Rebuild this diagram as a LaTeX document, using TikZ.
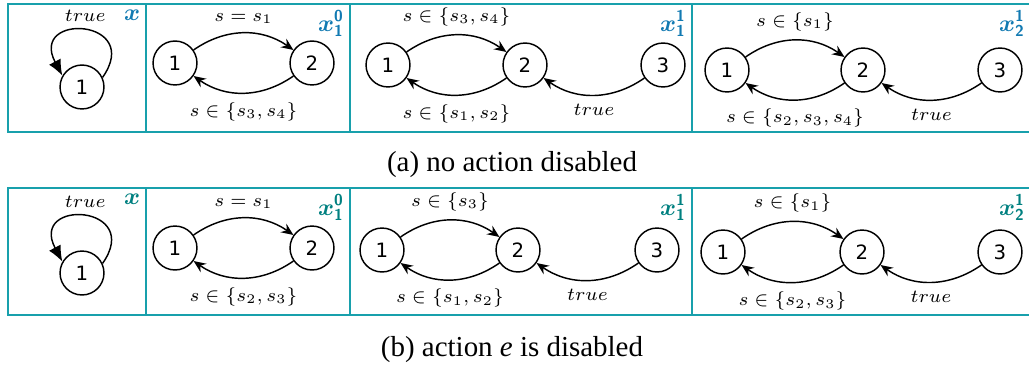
\documentclass[tikz,border=0pt]{standalone}
\usepackage{amsmath,bm}
\usepackage{fontspec}
\setmainfont{Liberation Serif}
\newfontfamily\numfont{DejaVu Sans}
\usetikzlibrary{arrows.meta}
\definecolor{framecol}{RGB}{24,160,172}
\definecolor{labtop}{RGB}{18,122,178}
\definecolor{labbot}{RGB}{0,128,128}
\tikzset{
  loc/.style={draw, circle, line width=0.55pt, minimum size=16.7pt, inner sep=0pt,
    font=\numfont\fontsize{7.5}{9}\selectfont},
  trans/.style={-{Stealth[length=4.6pt,width=3.9pt]}, line width=0.55pt, bend left=35},
  selfloop/.style={-{Latex[length=6pt,width=5pt]}, line width=0.55pt},
  guard/.style={font=\fontsize{7.3}{9}\selectfont},
  frame/.style={draw=framecol, line width=0.8pt},
  xlab/.style={anchor=north east, font=\small, inner sep=2pt},
  caption/.style={font=\fontsize{11}{13}\selectfont}
}
\begin{document}
\begin{tikzpicture}[x=0.38pt, y=0.38pt]
\useasboundingbox (0,0) rectangle (1029,-367);
% frames
\foreach \yt/\yb in {-4/-132, -188/-315}{
  \draw[frame] (8,\yt) rectangle (1034,\yb);
  \foreach \xd in {146,350,692}
    \draw[frame] (\xd,\yt) -- (\xd,\yb);
}
% (a) no action disabled
\node[xlab, text=labtop] (anx) at (146,-4) {$\bm{x}$};
\node[xlab, text=labtop] (anp) at (350,-4) {$\bm{x}^{\textsf{\textbf{0}}}_{\textsf{\textbf{1}}}$};
\node[xlab, text=labtop] (anq) at (692,-4) {$\bm{x}^{\textsf{\textbf{1}}}_{\textsf{\textbf{1}}}$};
\node[xlab, text=labtop] (anr) at (1031,-4) {$\bm{x}^{\textsf{\textbf{1}}}_{\textsf{\textbf{2}}}$};
\node[loc] (ax) at (82,-87) {1};
\node[loc] (ap1) at (175,-63) {1};
\node[loc] (ap2) at (312,-63) {2};
\node[loc] (aq1) at (388,-65) {1};
\node[loc] (aq2) at (525,-65) {2};
\node[loc] (aq3) at (663,-65) {3};
\node[loc] (ar1) at (727,-70) {1};
\node[loc] (ar2) at (863,-70) {2};
\node[loc] (ar3) at (1000,-70) {3};
\draw[selfloop] (ax.25) .. controls +(55:72) and +(118:72) .. (ax.150)
  node[pos=0.5, above, guard] {$true$};
\draw[trans] (ap1) to node[above,guard] {$s=s_1$} (ap2);
\draw[trans] (ap2) to node[below,guard] {$s\in\{s_3,s_4\}$} (ap1);
\draw[trans] (aq1) to node[above,guard] {$s\in\{s_3,s_4\}$} (aq2);
\draw[trans] (aq2) to node[below,guard] {$s\in\{s_1,s_2\}$} (aq1);
\draw[trans] (aq3) to node[below,guard] {$true$} (aq2);
\draw[trans] (ar1) to node[above,guard] {$s\in\{s_1\}$} (ar2);
\draw[trans] (ar2) to node[below,guard] {$s\in\{s_2,s_3,s_4\}$} (ar1);
\draw[trans] (ar3) to node[below,guard] {$true$} (ar2);
\node[caption] (capa) at (512,-165) {(a) no action disabled};
% (b) action e is disabled
\node[xlab, text=labbot] (bnx) at (146,-188) {$\bm{x}$};
\node[xlab, text=labbot] (bnp) at (350,-188) {$\bm{x}^{\textsf{\textbf{0}}}_{\textsf{\textbf{1}}}$};
\node[xlab, text=labbot] (bnq) at (692,-188) {$\bm{x}^{\textsf{\textbf{1}}}_{\textsf{\textbf{1}}}$};
\node[xlab, text=labbot] (bnr) at (1031,-188) {$\bm{x}^{\textsf{\textbf{1}}}_{\textsf{\textbf{2}}}$};
\node[loc] (bx) at (82,-273) {1};
\node[loc] (bp1) at (175,-248) {1};
\node[loc] (bp2) at (312,-248) {2};
\node[loc] (bq1) at (382,-250) {1};
\node[loc] (bq2) at (518,-250) {2};
\node[loc] (bq3) at (657,-250) {3};
\node[loc] (br1) at (723,-252) {1};
\node[loc] (br2) at (862,-252) {2};
\node[loc] (br3) at (1000,-252) {3};
\draw[selfloop] (bx.25) .. controls +(55:72) and +(118:72) .. (bx.150)
  node[pos=0.5, above, guard] {$true$};
\draw[trans] (bp1) to node[above,guard] {$s=s_1$} (bp2);
\draw[trans] (bp2) to node[below,guard] {$s\in\{s_2,s_3\}$} (bp1);
\draw[trans] (bq1) to node[above,guard] {$s\in\{s_3\}$} (bq2);
\draw[trans] (bq2) to node[below,guard] {$s\in\{s_1,s_2\}$} (bq1);
\draw[trans] (bq3) to node[below,guard] {$true$} (bq2);
\draw[trans] (br1) to node[above,guard] {$s\in\{s_1\}$} (br2);
\draw[trans] (br2) to node[below,guard] {$s\in\{s_2,s_3\}$} (br1);
\draw[trans] (br3) to node[below,guard] {$true$} (br2);
\node[caption] (capb) at (512,-350) {(b) action \textit{e} is disabled};
\end{tikzpicture}
\end{document}
